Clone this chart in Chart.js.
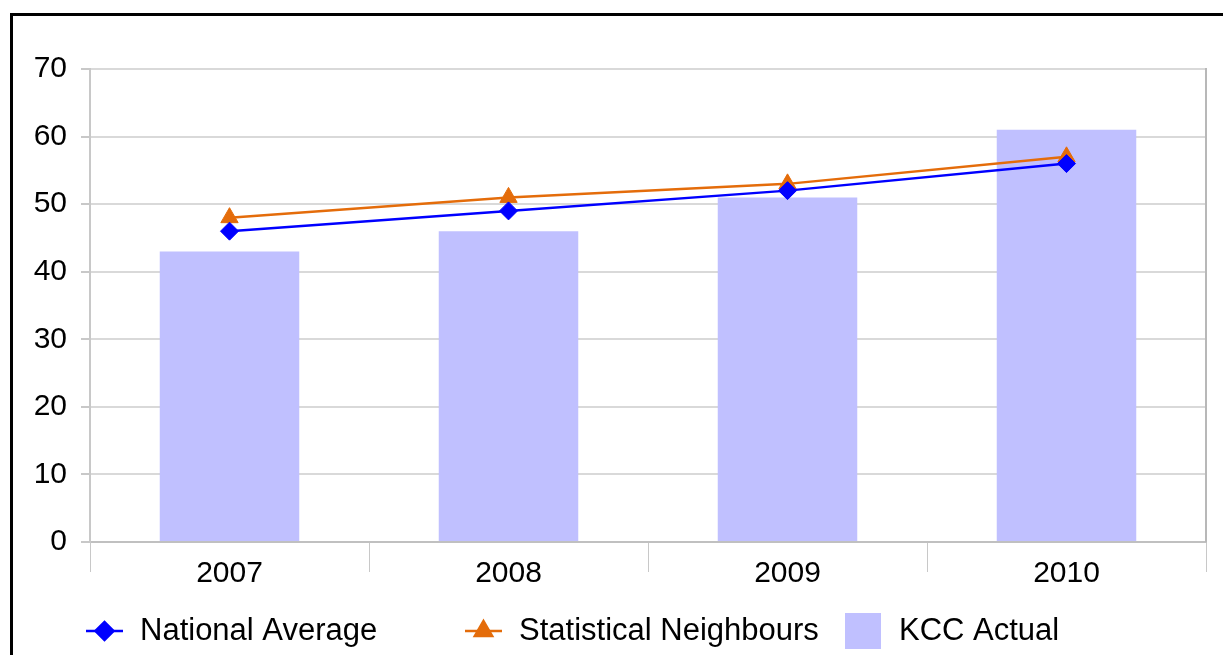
<!DOCTYPE html>
<html>
<head>
<meta charset="utf-8">
<script src="https://cdn.jsdelivr.net/npm/chart.js"></script>
<style>
  html, body { margin: 0; padding: 0; background: #fff; overflow: hidden; }
  #frame {
    position: absolute; left: 10px; top: 13px; width: 1400px; height: 800px;
    border-left: 3px solid #000; border-top: 3px solid #000;
  }
  #chart { position: absolute; left: 0; top: 0; }
</style>
</head>
<body>
<div id="frame"></div>
<canvas id="chart" width="1223" height="655"></canvas>
<script>
// chart values
const years = ["2007", "2008", "2009", "2010"];
const nationalAverage = [46, 49, 52, 56];
const statisticalNeighbours = [48, 51, 53, 57];
const kccActual = [43, 46, 51, 61];
const yTicks = [0, 10, 20, 30, 40, 50, 60, 70];

const FONT = '"Liberation Sans", Arial, sans-serif';

// right border of the plot area
const plotFrame = {
  id: "plotFrame",
  afterDatasetsDraw(chart) {
    const { ctx, chartArea } = chart;
    ctx.save();
    ctx.strokeStyle = "#b8b8b8";
    ctx.lineWidth = 2;
    ctx.beginPath();
    ctx.moveTo(chartArea.right, chartArea.top - 1);
    ctx.lineTo(chartArea.right, chartArea.bottom);
    ctx.stroke();
    ctx.restore();
  },
};

// legend laid out in fixed columns like the original
const columnLegend = {
  id: "columnLegend",
  afterDraw(chart) {
    const ctx = chart.ctx;
    const xs = [86, 465, 845];
    const y = 631;
    ctx.save();
    ctx.font = "31px " + FONT;
    ctx.textBaseline = "middle";
    chart.data.datasets.forEach((ds, i) => {
      const x = xs[i];
      if (ds.type === "line") {
        ctx.strokeStyle = ds.borderColor;
        ctx.fillStyle = ds.pointBackgroundColor;
        ctx.lineWidth = 2.5;
        ctx.beginPath();
        ctx.moveTo(x, y);
        ctx.lineTo(x + 37, y);
        ctx.stroke();
        Chart.helpers.drawPoint(ctx, {
          pointStyle: ds.pointStyle,
          radius: ds.pointRadius,
          rotation: 0,
          borderWidth: 1,
        }, x + 18.5, y);
      } else {
        ctx.fillStyle = ds.backgroundColor;
        ctx.fillRect(x, y - 18, 36, 36);
      }
      ctx.fillStyle = "#000";
      ctx.fillText(ds.label, x + 54, y);
    });
    ctx.restore();
  },
};

new Chart(document.getElementById("chart"), {
  data: {
    labels: years,
    datasets: [
      {
        type: "line",
        label: "National Average",
        data: nationalAverage,
        borderColor: "#0000ff",
        backgroundColor: "#0000ff",
        pointBackgroundColor: "#0000ff",
        pointBorderColor: "#0000ff",
        pointStyle: "rectRot",
        pointRadius: 9,
        pointBorderWidth: 1,
        borderWidth: 2.5,
        tension: 0,
        order: 0,
      },
      {
        type: "line",
        label: "Statistical Neighbours",
        data: statisticalNeighbours,
        borderColor: "#e46c0a",
        backgroundColor: "#e46c0a",
        pointBackgroundColor: "#e46c0a",
        pointBorderColor: "#e46c0a",
        pointStyle: "triangle",
        pointRadius: 10,
        pointBorderWidth: 1,
        borderWidth: 2.5,
        tension: 0,
        order: 1,
      },
      {
        type: "bar",
        label: "KCC Actual",
        data: kccActual,
        backgroundColor: "#c0c0ff",
        borderWidth: 0,
        categoryPercentage: 1,
        barPercentage: 0.5,
        order: 2,
      },
    ],
  },
  options: {
    responsive: false,
    animation: false,
    devicePixelRatio: 1,
    layout: { padding: { left: 0, right: 17, top: 69, bottom: 0 } },
    plugins: {
      legend: { display: false },
      tooltip: { enabled: false },
    },
    scales: {
      x: {
        afterFit: (s) => { s.height = 113; },
        grid: {
          offset: true,
          drawOnChartArea: false,
          drawTicks: true,
          tickLength: 30,
          color: "#c8c8c8",
          lineWidth: 1,
        },
        border: { color: "#c0c0c0", width: 2 },
        ticks: {
          color: "#000",
          font: { family: FONT, size: 30 },
          padding: -16,
          maxRotation: 0,
        },
      },
      y: {
        min: 0,
        max: 70,
        afterFit: (s) => { s.width = 90; },
        afterBuildTicks: (s) => { s.ticks = yTicks.map((v) => ({ value: v })); },
        grid: {
          color: "#d9d9d9",
          lineWidth: 2,
          tickLength: 9,
          tickColor: "#c8c8c8",
        },
        border: { color: "#c8c8c8", width: 2 },
        ticks: {
          color: "#000",
          font: { family: FONT, size: 30 },
          padding: 14,
        },
      },
    },
  },
  plugins: [plotFrame, columnLegend],
});
</script>
</body>
</html>
